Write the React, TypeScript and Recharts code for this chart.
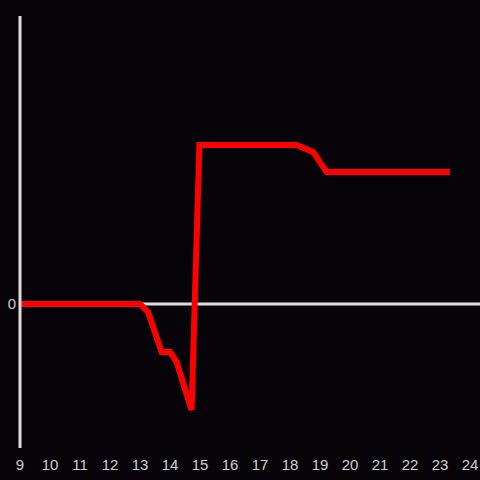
import React from "react";
import { LineChart, Line, XAxis, YAxis, ReferenceLine } from "recharts";

const xValues = [9, 13.0, 13.27, 13.72, 14.0, 14.22, 14.72, 14.98, 18.22, 18.77, 19.22, 23.33];
const yValues = [0, 0, -0.056, -0.333, -0.333, -0.403, -0.736, 1.104, 1.104, 1.056, 0.917, 0.917];
const xTicks = [9, 10, 11, 12, 13, 14, 15, 16, 17, 18, 19, 20, 21, 22, 23, 24];
const yTicks = [0];

const data = xValues.map((x, i) => ({ x, y: yValues[i] }));

const BG = "#060409";
const AXIS = "#dddddd";
const LABEL = "#d0d0d0";
const FONT = "Liberation Sans, Arial, sans-serif";

const XTick = (props: any) => {
  const { x, y, payload } = props;
  return (
    <text x={x} y={y + 14} textAnchor="middle" fill={LABEL} fontSize={15} fontFamily={FONT}>
      {payload.value}
    </text>
  );
};

const YTick = (props: any) => {
  const { x, y, payload } = props;
  return (
    <text x={16} y={y + 5} textAnchor="end" fill={LABEL} fontSize={15} fontFamily={FONT}>
      {payload.value}
    </text>
  );
};

export default function App() {
  return (
    <div style={{ position: "absolute", left: 0, top: 0, width: 480, height: 480, background: BG }}>
      <LineChart width={480} height={480} data={data} margin={{ top: 16, right: 0, bottom: 0, left: 0 }}>
        <XAxis
          dataKey="x"
          type="number"
          domain={[9, 24.333]}
          ticks={xTicks}
          axisLine={false}
          tickLine={false}
          height={32}
          tick={<XTick />}
          interval={0}
          allowDataOverflow
        />
        <YAxis
          type="number"
          domain={[-1, 2]}
          ticks={yTicks}
          width={20}
          axisLine={{ stroke: AXIS, strokeWidth: 3 }}
          tickLine={false}
          tick={<YTick />}
        />
        <ReferenceLine y={0} stroke={AXIS} strokeWidth={3} />
        <Line
          dataKey="y"
          type="linear"
          stroke="#ff0000"
          strokeWidth={6}
          dot={false}
          isAnimationActive={false}
        />
      </LineChart>
    </div>
  );
}
